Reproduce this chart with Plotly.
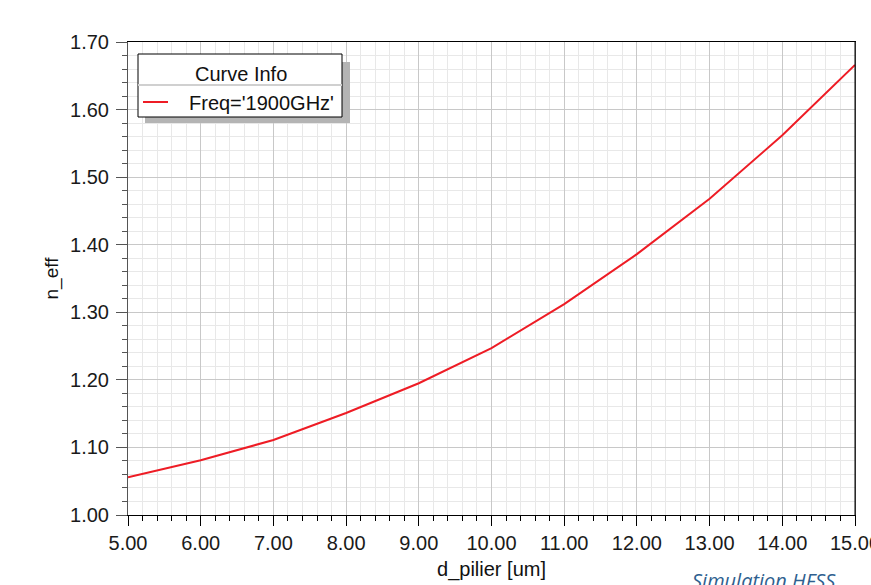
import plotly.graph_objects as go

d_pilier = [5, 6, 7, 8, 9, 10, 11, 12, 13, 14, 15]
n_eff = [1.056, 1.081, 1.111, 1.151, 1.195, 1.247, 1.312, 1.386, 1.468, 1.562, 1.666]
x_ticks = [5, 6, 7, 8, 9, 10, 11, 12, 13, 14, 15]
x_labels = ["%.2f" % v for v in x_ticks]
y_ticks = [1.0, 1.1, 1.2, 1.3, 1.4, 1.5, 1.6, 1.7]
y_labels = ["%.2f" % v for v in y_ticks]

W, H = 871, 585
L, R, T, B = 128, 16, 42, 70
PW, PH = W - L - R, H - T - B


def px(x):
    return (x - L) / PW


def py(y):
    return (H - B - y) / PH


FAM = "Liberation Sans, Arial, sans-serif"

fig = go.Figure()
fig.add_trace(go.Scatter(x=d_pilier, y=n_eff, mode="lines",
                         line=dict(color="#ee1c25", width=2), showlegend=False))

font = dict(family=FAM, size=20, color="#1a1a1a")

fig.update_layout(
    width=W, height=H,
    margin=dict(l=L, r=R, t=T, b=B, autoexpand=False),
    paper_bgcolor="white", plot_bgcolor="white",
    font=font,
    xaxis=dict(range=[5, 15], tickvals=x_ticks, ticktext=x_labels,
               automargin=False,
               showline=True, linecolor="black", linewidth=1, mirror=True,
               ticks="outside", ticklen=10, tickcolor="black",
               ticklabeloverflow="allow",
               showgrid=True, gridcolor="#c8c8c8", gridwidth=1, zeroline=False,
               minor=dict(dtick=0.2, ticks="outside", ticklen=5, tickcolor="black",
                          showgrid=True, gridcolor="#e8e8e8", gridwidth=1),
               title=dict(text="d_pilier [um]", standoff=8,
                          font=dict(family=FAM, size=20, color="#111")),
               tickfont=font),
    yaxis=dict(range=[1.0, 1.7], tickvals=y_ticks, ticktext=y_labels,
               automargin=False,
               showline=True, linecolor="#555", linewidth=1, mirror=True,
               ticks="outside", ticklen=11, tickcolor="#555",
               ticklabelstandoff=3, ticklabeloverflow="allow",
               showgrid=True, gridcolor="#c8c8c8", gridwidth=1, zeroline=False,
               minor=dict(dtick=0.02, ticks="outside", ticklen=5, tickcolor="#555",
                          showgrid=True, gridcolor="#e8e8e8", gridwidth=1),
               title=dict(text="n_eff", standoff=6,
                          font=dict(family=FAM, size=19, color="#111")),
               tickfont=font),
)

shapes = []
# right frame edge in black
shapes.append(dict(type="line", xref="paper", yref="paper",
                   x0=1, x1=1, y0=0, y1=1, line=dict(color="black", width=1), layer="above"))
# legend shadow
shapes.append(dict(type="rect", xref="paper", yref="paper",
                   x0=px(145), x1=px(350), y0=py(123), y1=py(62),
                   fillcolor="#b4b4b4", line=dict(width=0), layer="above"))
# legend box
shapes.append(dict(type="rect", xref="paper", yref="paper",
                   x0=px(138), x1=px(342), y0=py(117), y1=py(54),
                   fillcolor="white", line=dict(color="black", width=1), layer="above"))
# separator
shapes.append(dict(type="line", xref="paper", yref="paper",
                   x0=px(138), x1=px(342), y0=py(85), y1=py(85),
                   line=dict(color="#d0d0d0", width=2), layer="above"))
# legend sample line
shapes.append(dict(type="line", xref="paper", yref="paper",
                   x0=px(143), x1=px(168), y0=py(102), y1=py(102),
                   line=dict(color="#ee1c25", width=2), layer="above"))
fig.update_layout(shapes=shapes)

lf = dict(family=FAM, size=20, color="#111")
fig.add_annotation(x=px(241), y=py(74), xref="paper", yref="paper", text="Curve Info",
                   showarrow=False, font=lf, xanchor="center", yanchor="middle")
fig.add_annotation(x=px(187), y=py(103), xref="paper", yref="paper", text="Freq='1900GHz'",
                   showarrow=False, font=lf, xanchor="left", yanchor="middle")
fig.add_annotation(x=px(690), y=py(580), xref="paper", yref="paper", text="<i>Simulation HFSS</i>",
                   showarrow=False, xanchor="left", yanchor="middle",
                   font=dict(family="Open Sans, sans-serif", size=20, color="#2f5f8f"))

fig.write_html("out.html")
